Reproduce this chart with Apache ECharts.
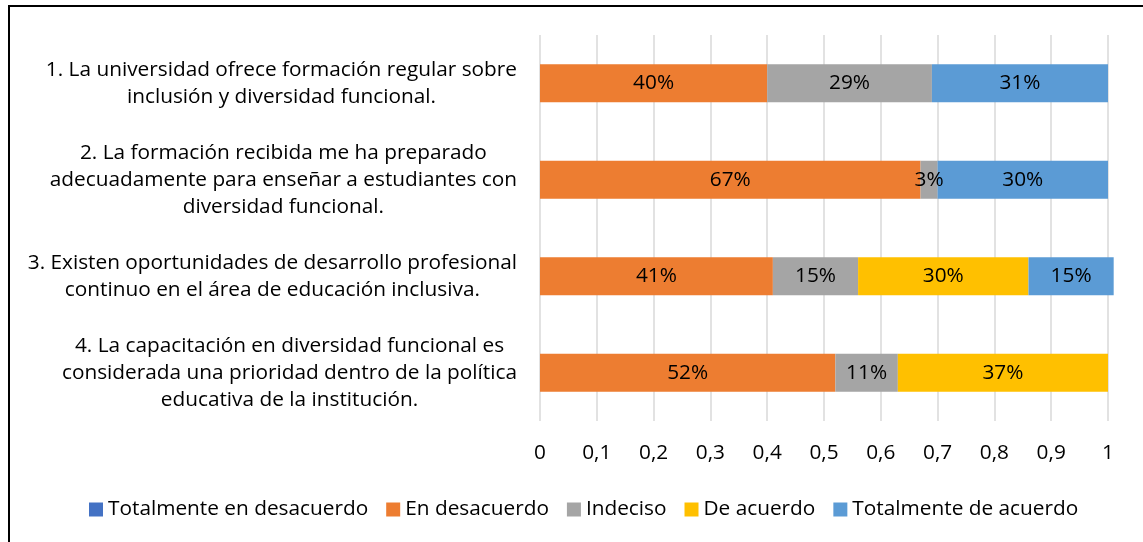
<!DOCTYPE html>
<html>
<head>
<meta charset="utf-8">
<script src="https://cdn.jsdelivr.net/npm/echarts@6/dist/echarts.min.js"></script>
<style>
html, body { margin: 0; padding: 0; background: #fff; }
#frame { position: absolute; left: 8px; top: 5px; width: 1135px; height: 537px; border-left: 2px solid #000; border-top: 2px solid #000; }
#main { position: absolute; left: 0; top: 0; width: 1143px; height: 542px; }
</style>
</head>
<body>
<div id="frame"></div>
<div id="main"></div>
<script>
// 类别（从上到下）
var categories = [
	'1. La universidad ofrece formación regular sobre\ninclusión y diversidad funcional.',
	'2. La formación recibida me ha preparado\nadecuadamente para enseñar a estudiantes con\ndiversidad funcional.',
	'3. Existen oportunidades de desarrollo profesional\ncontinuo en el área de educación inclusiva.',
	'4. La capacitación en diversidad funcional es\nconsiderada una prioridad dentro de la política\neducativa de la institución.'
];
// 各系列数值
var totalDesacuerdo = [0, 0, 0, 0];
var enDesacuerdo = [0.40, 0.67, 0.41, 0.52];
var indeciso = [0.29, 0.03, 0.15, 0.11];
var deAcuerdo = [0, 0, 0.30, 0.37];
var totalAcuerdo = [0.31, 0.30, 0.15, 0];
var seriesNames = ['Totalmente en desacuerdo', 'En desacuerdo', 'Indeciso', 'De acuerdo', 'Totalmente de acuerdo'];
var seriesColors = ['#4472C4', '#ED7D31', '#A5A5A5', '#FFC000', '#5B9BD5'];
var seriesData = [totalDesacuerdo, enDesacuerdo, indeciso, deAcuerdo, totalAcuerdo];

var font = 'Open Sans';
var fs = 20.8;
var chart = echarts.init(document.getElementById('main'));

var series = [];
for (var i = 0; i < seriesNames.length; i++) {
	series.push({
		name : seriesNames[i],
		type : 'bar',
		stack : 'total',
		barWidth : 38,
		clip : false,
		data : seriesData[i],
		itemStyle : { color : seriesColors[i] },
		label : {
			show : true,
			position : 'inside',
			color : '#000',
			fontFamily : font,
			fontSize : fs,
			formatter : function(p) {
				return p.value > 0 ? Math.round(p.value * 100) + '%' : '';
			}
		}
	});
}

chart.setOption({
	animation : false,
	grid : { left : 540, right : 35, top : 35, bottom : 121 },
	legend : {
		bottom : 17,
		left : 84,
		itemWidth : 14,
		itemHeight : 14,
		itemGap : 18,
		icon : 'rect',
		textStyle : { color : '#000', fontFamily : font, fontSize : fs },
		data : seriesNames
	},
	xAxis : {
		type : 'value',
		min : 0,
		max : 1,
		interval : 0.1,
		axisLine : { show : false },
		axisTick : { show : false },
		splitLine : { lineStyle : { color : '#d9d9d9', width : 1.5 } },
		axisLabel : {
			margin : 22,
			color : '#000',
			fontFamily : font,
			fontSize : fs,
			formatter : function(v) {
				return String(Math.round(v * 10) / 10).replace('.', ',');
			}
		}
	},
	yAxis : {
		type : 'category',
		inverse : true,
		data : categories,
		axisLine : { show : false },
		axisTick : { show : false },
		axisLabel : {
			margin : 23,
			formatter : function(v) {
				return v.split('\n').map(function(l) { return '{c|' + l + '}'; }).join('\n');
			},
			rich : {
				c : { align : 'center', color : '#000', fontFamily : font, fontSize : fs, lineHeight : 27 }
			}
		}
	},
	series : series
});
</script>
</body>
</html>
